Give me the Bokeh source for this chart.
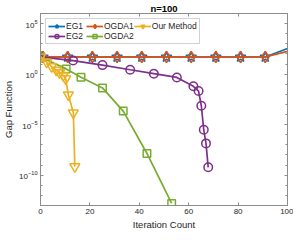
from bokeh.plotting import figure
from bokeh.models import FixedTicker, LogAxis, LinearAxis, Legend, LegendItem
from bokeh.embed import file_html
from bokeh.resources import INLINE

FONT = "Liberation Sans"

x_ticks = [0, 20, 40, 60, 80, 100]
y_ticks = [1e-10, 1e-5, 1e0, 1e5]
y_minor = [10.0 ** k for k in range(-13, 7)]

eg1_x = [0, 1, 11, 21, 31, 41, 51, 61, 71, 81, 91, 100]
eg1_y = [50, 50, 50, 50, 50, 50, 50, 50, 50, 50, 50, 340]
ogda1_x = [0, 1, 11, 21, 31, 41, 51, 61, 71, 81, 91, 100]
ogda1_y = [50, 50, 50, 50, 50, 50, 50, 50, 50, 50, 50, 180]
eg2_x = [0, 13.2, 25.1, 36.3, 45.9, 55.2, 61.9, 64.0, 65.1, 66.1, 67.0, 67.9]
eg2_y = [50, 21.9, 7.8, 2.7, 1.1, 0.47, 0.062, 0.021, 7.4e-4, 3.1e-6, 1.4e-7, 6.0e-10]
ogda2_x = [0, 10.4, 16.4, 25.1, 33.5, 43.1, 53.1]
ogda2_y = [50, 3.3, 0.5, 0.043, 2.2e-4, 1.4e-8, 1.6e-13]
ours_x = [0, 2.5, 4.5, 6.4, 7.7, 9.2, 10.2, 11.3, 13.3, 13.9]
ours_y = [50, 15.8, 5.6, 2.5, 1.4, 0.76, 0.35, 8.9e-3, 1.5e-4, 7.0e-10]

C_EG1 = "#0072BD"
C_OGDA1 = "#D95319"
C_OURS = "#EDB120"
C_EG2 = "#7E2F8E"
C_OGDA2 = "#77AC30"

p = figure(width=293, height=232, y_axis_type="log",
           x_range=(0, 100), y_range=(1e-13, 1e6),
           output_backend="svg", toolbar_location=None,
           min_border_left=29, min_border_right=6,
           min_border_top=10, min_border_bottom=22)

p.title.text = "n=100"
p.title.align = "center"
p.title.text_font = FONT
p.title.text_font_size = "9.5px"
p.title.text_font_style = "bold"
p.title.text_color = "#000000"
p.title.standoff = 0
p.title.offset = 0

p.xgrid.visible = False
p.ygrid.visible = False
p.outline_line_color = "#8c8c8c"
p.outline_line_width = 1

AX = "#8c8c8c"
TXT = "#262626"

def style_axis(ax, show_labels):
    ax.axis_line_color = AX
    ax.major_tick_line_color = AX
    ax.minor_tick_line_color = AX
    ax.major_tick_in = 3
    ax.major_tick_out = 0
    ax.minor_tick_in = 2
    ax.minor_tick_out = 0
    ax.major_label_text_font = FONT
    ax.axis_label_text_font = FONT
    ax.axis_label_text_color = TXT
    ax.axis_label_text_font_style = "normal"
    if show_labels:
        ax.major_label_text_color = TXT
        ax.major_label_text_font_size = "8px"
        ax.axis_label_text_font_size = "9.5px"
        ax.major_label_standoff = 3
        ax.axis_label_standoff = 2
    else:
        ax.major_label_text_font_size = "1px"
        ax.major_label_text_alpha = 0.0
        ax.major_label_standoff = 0

xt = FixedTicker(ticks=x_ticks, minor_ticks=[])
yt = FixedTicker(ticks=y_ticks, minor_ticks=y_minor)

p.xaxis.ticker = xt
p.yaxis.ticker = yt
p.xaxis.axis_label = "Iteration Count"
p.yaxis.axis_label = "Gap Function"
style_axis(p.xaxis[0], True)
style_axis(p.yaxis[0], True)

top = LinearAxis(ticker=FixedTicker(ticks=x_ticks, minor_ticks=[]))
style_axis(top, False)
p.add_layout(top, "above")
right = LogAxis(ticker=FixedTicker(ticks=y_ticks, minor_ticks=y_minor))
style_axis(right, False)
p.add_layout(right, "right")

LW = 1.7

def series(xs, ys, color, marker, size, mark_last=True):
    ln = p.line(xs, ys, line_color=color, line_width=LW)
    mx = xs if mark_last else xs[:-1]
    my = ys if mark_last else ys[:-1]
    sc = p.scatter(mx, my, marker=marker, size=size, line_color=color,
                   line_width=1.5, fill_color=color, fill_alpha=0.0)
    return [ln, sc]

r_eg1 = series(eg1_x, eg1_y, C_EG1, "star", 11, mark_last=False)
r_ogda1 = series(ogda1_x, ogda1_y, C_OGDA1, "diamond", 11, mark_last=False)
r_eg2 = series(eg2_x, eg2_y, C_EG2, "circle", 8.5)
r_ogda2 = series(ogda2_x, ogda2_y, C_OGDA2, "square", 7.5)
r_ours = series(ours_x, ours_y, C_OURS, "inverted_triangle", 10)

legend = Legend(items=[
    LegendItem(label="EG1", renderers=r_eg1),
    LegendItem(label="EG2", renderers=r_eg2),
    LegendItem(label="OGDA1", renderers=r_ogda1),
    LegendItem(label="OGDA2", renderers=r_ogda2),
    LegendItem(label="Our Method", renderers=r_ours),
], location="top_left", orientation="vertical", ncols=3)
legend.label_text_font = FONT
legend.label_text_font_size = "8.5px"
legend.label_text_color = TXT
legend.label_height = 10
legend.glyph_height = 10
legend.glyph_width = 17
legend.label_standoff = 1
legend.spacing = 0
legend.padding = 2
legend.margin = 5
legend.border_line_color = "#a6a6a6"
legend.border_line_width = 1
legend.background_fill_color = "white"
legend.background_fill_alpha = 1.0
p.add_layout(legend, "center")

open("out.html", "w").write(file_html(p, INLINE))
